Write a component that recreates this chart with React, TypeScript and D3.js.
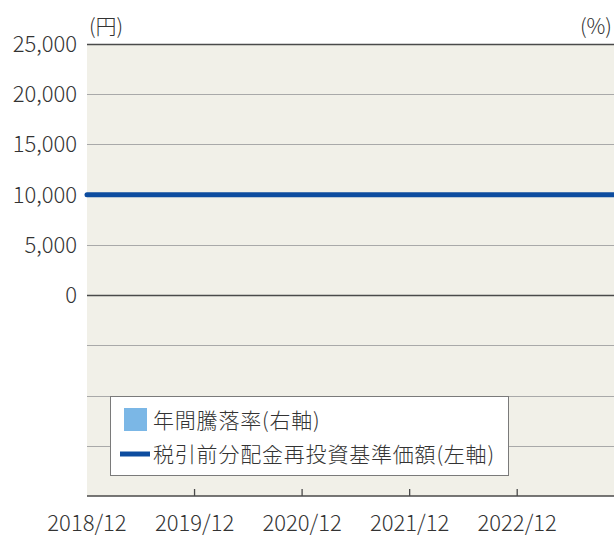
import React, { useRef, useEffect } from "react";
import * as d3 from "d3";

// left axis (円)
const leftTicks = [0, 5000, 10000, 15000, 20000, 25000];
// x axis labels, one per year
const yearLabels = ["2018/12", "2019/12", "2020/12", "2021/12", "2022/12"];
// NAV (reinvested, before tax) in years since 2018/12
const navYears = [0, 1, 2, 3, 4, 4.9];
const navValues = [10000, 10000, 10000, 10000, 10000, 10000];
// annual returns (right axis) - none shown
const returnValues: number[] = [];

const legendItems = ["年間騰落率(右軸)", "税引前分配金再投資基準価額(左軸)"];

const W = 614;
const H = 535;
const FONT = "'Noto Sans CJK JP', 'Noto Sans', sans-serif";

const App: React.FC = () => {
  const svgRef = useRef<SVGSVGElement>(null);

  useEffect(() => {
    document.body.style.margin = "0";
    if (!svgRef.current) return;
    const svg = d3.select(svgRef.current);
    svg.selectAll("*").remove();

    const m = { left: 87, right: 0, top: 44, bottom: 39 };
    const x = d3.scaleLinear().domain([0, 4.9]).range([m.left, W - m.right]);
    const y = d3
      .scaleLinear()
      .domain([-20000, 25000])
      .range([H - m.bottom, m.top]);

    // plot background
    svg
      .append("rect")
      .attr("x", m.left)
      .attr("y", m.top)
      .attr("width", W - m.left - m.right)
      .attr("height", H - m.top - m.bottom)
      .attr("fill", "#f1f0e8");

    // grid lines every 5000
    const grid = d3.range(-15000, 25001, 5000);
    svg
      .append("g")
      .selectAll("line")
      .data(grid)
      .join("line")
      .attr("x1", m.left)
      .attr("x2", W - m.right)
      .attr("y1", (d) => Math.round(y(d)) + 0.5)
      .attr("y2", (d) => Math.round(y(d)) + 0.5)
      .attr("stroke", (d) => (d === 0 || d === 25000 ? "#4a4a4a" : "#a9a9a9"))
      .attr("stroke-width", (d) => (d === 0 || d === 25000 ? 1.6 : 1));

    // bottom axis
    const yb = H - m.bottom;
    svg
      .append("line")
      .attr("x1", m.left)
      .attr("x2", W - m.right)
      .attr("y1", yb)
      .attr("y2", yb)
      .attr("stroke", "#4a4a4a")
      .attr("stroke-width", 1.6);

    svg
      .append("g")
      .selectAll("line")
      .data(yearLabels.slice(1))
      .join("line")
      .attr("x1", (_, i) => x(i + 1))
      .attr("x2", (_, i) => x(i + 1))
      .attr("y1", yb)
      .attr("y2", yb - 7)
      .attr("stroke", "#4a4a4a")
      .attr("stroke-width", 1.3);

    svg
      .append("g")
      .selectAll("text")
      .data(yearLabels)
      .join("text")
      .attr("x", (_, i) => x(i))
      .attr("y", 531)
      .attr("text-anchor", "middle")
      .attr("font-family", FONT)
      .attr("font-size", 22)
      .attr("font-weight", 300)
      .attr("fill", "#333")
      .text((d) => d);

    // left tick labels
    const fmt = d3.format(",");
    svg
      .append("g")
      .selectAll("text")
      .data(leftTicks)
      .join("text")
      .attr("x", 77)
      .attr("y", (d) => y(d))
      .attr("dy", "0.36em")
      .attr("text-anchor", "end")
      .attr("font-family", FONT)
      .attr("font-size", 22)
      .attr("font-weight", 300)
      .attr("fill", "#333")
      .text((d) => fmt(d));

    // unit labels
    svg
      .append("text")
      .attr("x", 89)
      .attr("y", 34)
      .attr("font-family", FONT)
      .attr("font-size", 21)
      .attr("font-weight", 300)
      .attr("fill", "#333")
      .text("(円)");
    svg
      .append("text")
      .attr("x", 612)
      .attr("y", 34)
      .attr("text-anchor", "end")
      .attr("font-family", FONT)
      .attr("font-size", 21)
      .attr("font-weight", 300)
      .attr("fill", "#333")
      .text("(%)");

    // bars (annual returns) - none
    svg
      .append("g")
      .selectAll("rect")
      .data(returnValues)
      .join("rect")
      .attr("fill", "#7bb7e6");

    // NAV line
    const line = d3
      .line<number>()
      .x((_, i) => x(navYears[i]))
      .y((d) => y(d));
    svg
      .append("path")
      .datum(navValues)
      .attr("d", line)
      .attr("fill", "none")
      .attr("stroke", "#0d4c9f")
      .attr("stroke-width", 5)
      .attr("stroke-linecap", "round");

    // legend
    const lg = svg.append("g");
    lg.append("rect")
      .attr("x", 110.5)
      .attr("y", 396.5)
      .attr("width", 398)
      .attr("height", 79)
      .attr("fill", "#fff")
      .attr("stroke", "#7a7a7a")
      .attr("stroke-width", 1);
    lg.append("rect")
      .attr("x", 124)
      .attr("y", 408)
      .attr("width", 23)
      .attr("height", 23)
      .attr("fill", "#7bb7e6");
    lg.append("line")
      .attr("x1", 120)
      .attr("x2", 150)
      .attr("y1", 454)
      .attr("y2", 454)
      .attr("stroke", "#0d4c9f")
      .attr("stroke-width", 5);
    lg.selectAll("text")
      .data(legendItems)
      .join("text")
      .attr("x", 153)
      .attr("y", (_, i) => 420 + i * 34)
      .attr("dy", "0.36em")
      .attr("font-family", FONT)
      .attr("font-size", 21)
      .attr("font-weight", 300)
      .attr("letter-spacing", 0.8)
      .attr("fill", "#333")
      .text((d) => d);
  }, []);

  return <svg ref={svgRef} width={W} height={H} style={{ display: "block" }} />;
};

export default App;
